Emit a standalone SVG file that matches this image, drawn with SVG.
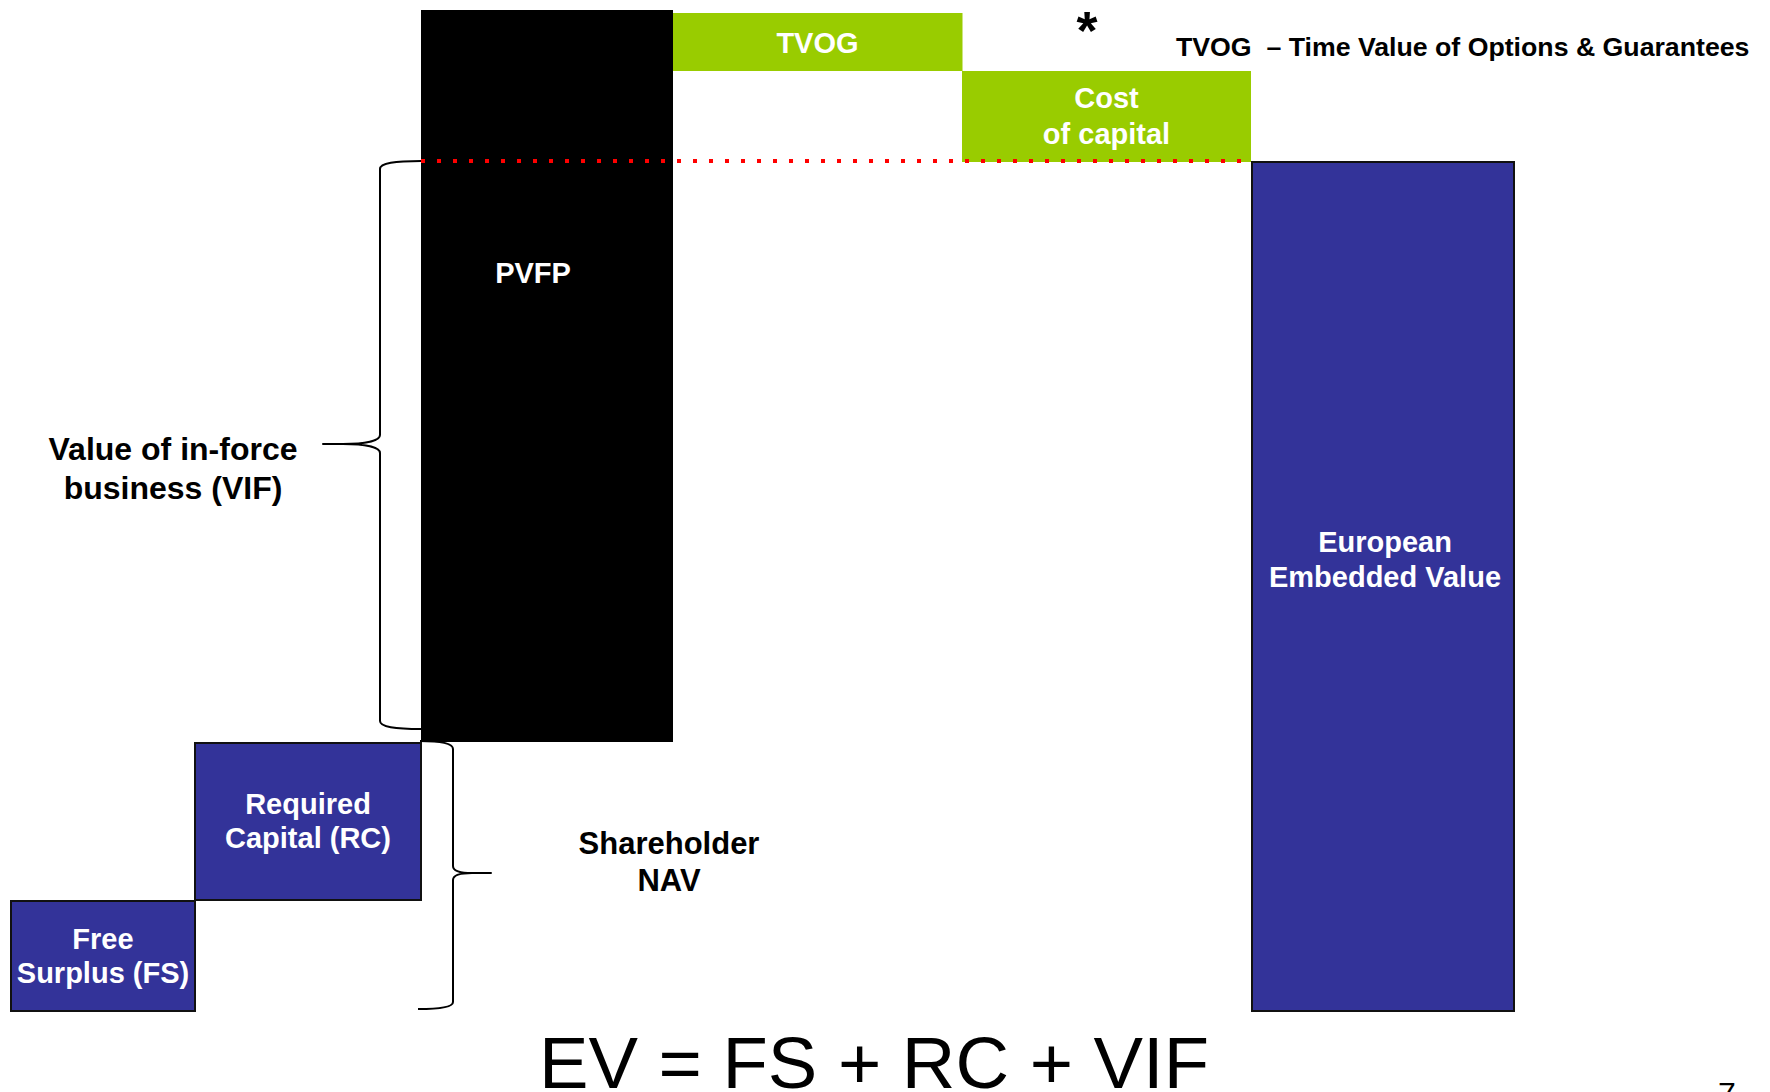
<svg xmlns="http://www.w3.org/2000/svg" width="1770" height="1092" viewBox="0 0 1770 1092">
  <style>
    .lbl { font-family: "Liberation Sans", Arial, sans-serif; font-weight: bold; text-anchor: middle; }
    .w { fill: #ffffff; font-size: 29px; }
    .k { fill: #000000; }
    .green { fill: #99CC00; }
    .blue { fill: #333399; stroke: #111111; stroke-width: 2; }
    .brace { fill: none; stroke: #000000; stroke-width: 2; stroke-linejoin: round; }
  </style>
  <rect width="1770" height="1092" fill="#ffffff"/>

  <g id="pvfp">
    <rect x="421" y="10" width="252" height="732" fill="#000000"/>
    <text class="lbl w" x="533" y="283">PVFP</text>
  </g>

  <g id="tvog">
    <rect class="green" x="673" y="13" width="289.5" height="58"/>
    <text class="lbl w" x="817.5" y="53">TVOG</text>
  </g>

  <g id="cost-of-capital">
    <rect class="green" x="962" y="71" width="289" height="91"/>
    <text class="lbl w" x="1106.5" y="108">Cost</text>
    <text class="lbl w" x="1106.5" y="144">of capital</text>
  </g>

  <g id="eev">
    <rect class="blue" x="1252" y="162" width="262" height="849"/>
    <text class="lbl w" x="1385" y="552">European</text>
    <text class="lbl w" x="1385" y="587">Embedded Value</text>
  </g>

  <g id="required-capital">
    <rect class="blue" x="195" y="743" width="226" height="157"/>
    <text class="lbl w" x="308" y="814">Required</text>
    <text class="lbl w" x="308" y="848">Capital (RC)</text>
  </g>

  <g id="free-surplus">
    <rect class="blue" x="11" y="901" width="184" height="110"/>
    <text class="lbl w" x="103" y="949">Free</text>
    <text class="lbl w" x="103" y="983">Surplus (FS)</text>
  </g>

  <g id="vif-label">
    <text class="lbl k" x="173" y="460" font-size="32">Value of in-force</text>
    <text class="lbl k" x="173" y="499" font-size="32">business (VIF)</text>
  </g>

  <g id="nav-label">
    <text class="lbl k" x="669" y="854" font-size="31">Shareholder</text>
    <text class="lbl k" x="669" y="891" font-size="31">NAV</text>
  </g>

  <g id="legend">
    <text class="lbl k" x="1087" y="49" font-size="54">*</text>
    <text class="lbl k" x="1176" y="56" font-size="26.7" style="text-anchor:start" xml:space="preserve">TVOG  – Time Value of Options &amp; Guarantees</text>
  </g>

  <g id="connectors">
    <line x1="421" y1="161" x2="1252" y2="161" stroke="#FF0000" stroke-width="4" stroke-dasharray="4 12"/>
    <path class="brace" d="M421,161 C395,161 380,163 380,169 L380,435 C380,441 365,444 343,444 L323,444 L343,444 C365,444 380,447 380,453 L380,721 C380,727 395,729 421,729"/>
    <path class="brace" d="M420,741 C440,741 453,743 453,749 L453,866 C453,871 460,873 472,873 L491,873 L472,873 C460,873 453,875 453,880 L453,1002 C453,1007 440,1009 418,1009"/>
  </g>

  <g id="formula">
    <text x="539" y="1088" font-family="Liberation Sans, Arial, sans-serif" font-size="73" fill="#000000" textLength="670" lengthAdjust="spacingAndGlyphs">EV = FS + RC + VIF</text>
  </g>

  <g id="page-number">
    <text x="1718" y="1105" font-family="Liberation Sans, Arial, sans-serif" font-size="32" fill="#000000">7</text>
  </g>
</svg>
